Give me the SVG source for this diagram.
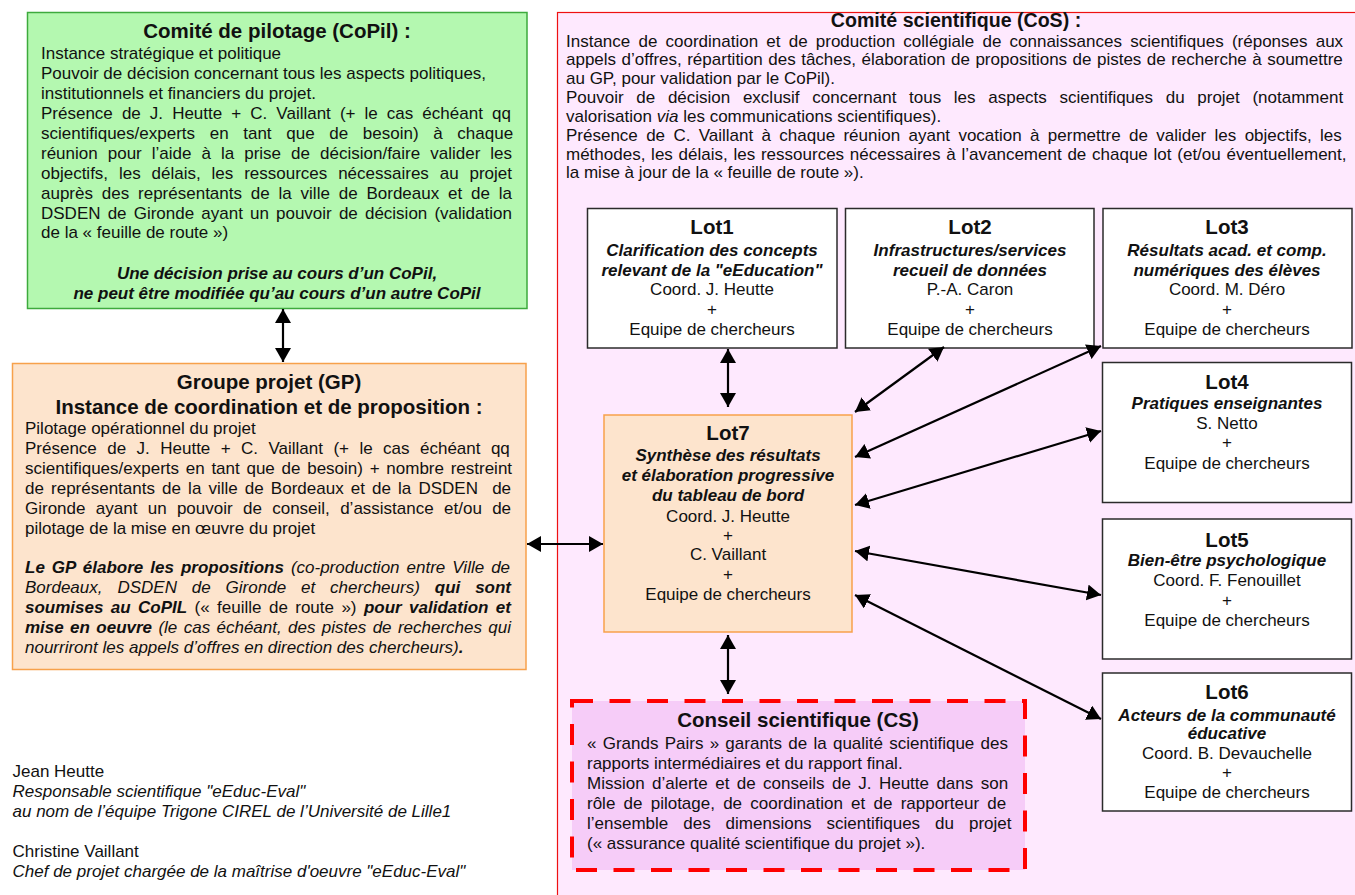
<svg xmlns="http://www.w3.org/2000/svg" width="1355" height="895" viewBox="0 0 1355 895">
<defs>
<style>
text{font-family:"Liberation Sans",Arial,Helvetica,sans-serif;font-size:17px;fill:#111}
.h{font-weight:bold;font-size:20.5px}
.bi{font-weight:bold;font-style:italic}
.i{font-style:italic}
.c{text-anchor:middle}
.lot{fill:#fff;stroke:#2b2b2b;stroke-width:1.5}
.con{stroke:#000;stroke-width:2.2;fill:none;marker-start:url(#ah);marker-end:url(#ah)}
</style>
<marker id="ah" viewBox="0 0 14 16" refX="14" refY="8" markerWidth="14" markerHeight="16" markerUnits="userSpaceOnUse" orient="auto-start-reverse"><path d="M0,0 L14,8 L0,16 z" fill="#000"/></marker>
</defs>
<rect x="0" y="0" width="1355" height="895" fill="#fff"/>

<g id="cos">
<rect x="557.5" y="12.5" width="820" height="900" fill="#fee9fe" stroke="#ee1111" stroke-width="1.2"/>
<text class="h c" x="956" y="27" style="font-size:19.6px">Comité scientifique (CoS) :</text>
<text x="566" y="46.5" style="word-spacing:3.46px">Instance de coordination et de production collégiale de connaissances scientifiques (réponses aux</text>
<text x="566" y="65.3" style="word-spacing:0.75px">appels d’offres, répartition des tâches, élaboration de propositions de pistes de recherche à soumettre</text>
<text x="566" y="84.1">au GP, pour validation par le CoPil).</text>
<text x="566" y="103" style="word-spacing:7.94px">Pouvoir de décision exclusif concernant tous les aspects scientifiques du projet (notamment</text>
<text x="566" y="121.8">valorisation <tspan class="i">via</tspan> les communications scientifiques).</text>
<text x="566" y="140.7" style="word-spacing:3.61px">Présence de C. Vaillant à chaque réunion ayant vocation à permettre de valider les objectifs, les</text>
<text x="566" y="159.5" style="word-spacing:1.02px">méthodes, les délais, les ressources nécessaires à l’avancement de chaque lot (et/ou éventuellement,</text>
<text x="566" y="178.4">la mise à jour de la «&#160;feuille de route&#160;»).</text>
</g>

<g id="copil">
<rect x="27.5" y="12.5" width="499.5" height="296" fill="#b4f8b0" stroke="#3daa3d" stroke-width="1.5"/>
<text class="h c" x="277" y="38">Comité de pilotage (CoPil) :</text>
<text x="41" y="59">Instance stratégique et politique</text>
<text x="41" y="79">Pouvoir de décision concernant tous les aspects politiques,</text>
<text x="41" y="99">institutionnels et financiers du projet.</text>
<text x="41" y="119" style="word-spacing:4.34px">Présence de J. Heutte + C. Vaillant (+ le cas échéant qq</text>
<text x="41" y="139" style="word-spacing:9.93px">scientifiques/experts en tant que de besoin) à chaque</text>
<text x="41" y="159" style="word-spacing:5.3px">réunion pour l’aide à la prise de décision/faire valider les</text>
<text x="41" y="179" style="word-spacing:6.14px">objectifs, les délais, les ressources nécessaires au projet</text>
<text x="41" y="199" style="word-spacing:4.1px">auprès des représentants de la ville de Bordeaux et de la</text>
<text x="41" y="219" style="word-spacing:2.4px">DSDEN de Gironde ayant un pouvoir de décision (validation</text>
<text x="41" y="238">de la «&#160;feuille de route&#160;»)</text>
<text class="bi c" x="277" y="279">Une décision prise au cours d’un CoPil,</text>
<text class="bi c" x="277" y="299">ne peut être modifiée qu’au cours d’un autre CoPil</text>
</g>

<g id="gp">
<rect x="12.5" y="363.5" width="513.5" height="306" fill="#fde4cd" stroke="#f7a14b" stroke-width="1.5"/>
<text class="h c" x="269" y="389">Groupe projet (GP)</text>
<text class="h c" x="269" y="414">Instance de coordination et de proposition :</text>
<text x="25" y="434">Pilotage opérationnel du projet</text>
<text x="25" y="454" style="word-spacing:5.7px">Présence de J. Heutte + C. Vaillant (+ le cas échéant qq</text>
<text x="25" y="474" style="word-spacing:2px">scientifiques/experts en tant que de besoin) + nombre restreint</text>
<text x="25" y="494" style="word-spacing:2.39px">de représentants de la ville de Bordeaux et de la DSDEN&#160; de</text>
<text x="25" y="514" style="word-spacing:5.59px">Gironde ayant un pouvoir de conseil, d’assistance et/ou de</text>
<text x="25" y="534">pilotage de la mise en œuvre du projet</text>
<text x="25" y="573" style="word-spacing:2.29px"><tspan class="bi">Le GP élabore les propositions</tspan><tspan class="i"> (co-production entre Ville de</tspan></text>
<text x="25" y="593" style="word-spacing:10.18px"><tspan class="i">Bordeaux, DSDEN de Gironde et chercheurs)</tspan><tspan class="bi"> qui sont</tspan></text>
<text x="25" y="613" style="word-spacing:2.68px"><tspan class="bi">soumises au CoPIL</tspan><tspan> («&#160;feuille de route&#160;»)</tspan><tspan class="bi"> pour validation et</tspan></text>
<text x="25" y="633" style="word-spacing:1.64px"><tspan class="bi">mise en oeuvre</tspan><tspan class="i"> (le cas échéant, des pistes de recherches qui</tspan></text>
<text x="25" y="653"><tspan class="i">nourriront les appels d’offres en direction des chercheurs)</tspan><tspan class="bi">.</tspan></text>
</g>

<g id="lot1">
<rect class="lot" x="587.5" y="208.5" width="249.5" height="139.5"/>
<text class="h c" x="712" y="234">Lot1</text>
<text class="bi c" x="712" y="256">Clarification des concepts</text>
<text class="bi c" x="712" y="275.5">relevant de la "eEducation"</text>
<text class="c" x="712" y="295">Coord. J. Heutte</text>
<text class="c" x="712" y="314.5">+</text>
<text class="c" x="712" y="334.5">Equipe de chercheurs</text>
</g>

<g id="lot2">
<rect class="lot" x="845.5" y="208.5" width="248.5" height="139.5"/>
<text class="h c" x="970" y="234">Lot2</text>
<text class="bi c" x="970" y="256">Infrastructures/services</text>
<text class="bi c" x="970" y="275.5">recueil de données</text>
<text class="c" x="970" y="295">P.-A. Caron</text>
<text class="c" x="970" y="314.5">+</text>
<text class="c" x="970" y="334.5">Equipe de chercheurs</text>
</g>

<g id="lot3">
<rect class="lot" x="1103" y="208.5" width="249" height="139.5"/>
<text class="h c" x="1227" y="234">Lot3</text>
<text class="bi c" x="1227" y="256">Résultats acad. et comp.</text>
<text class="bi c" x="1227" y="275.5">numériques des élèves</text>
<text class="c" x="1227" y="295">Coord. M. Déro</text>
<text class="c" x="1227" y="314.5">+</text>
<text class="c" x="1227" y="334.5">Equipe de chercheurs</text>
</g>

<g id="lot4">
<rect class="lot" x="1102.5" y="362.5" width="249" height="140"/>
<text class="h c" x="1227" y="389">Lot4</text>
<text class="bi c" x="1227" y="409">Pratiques enseignantes</text>
<text class="c" x="1227" y="429">S. Netto</text>
<text class="c" x="1227" y="448">+</text>
<text class="c" x="1227" y="469">Equipe de chercheurs</text>
</g>

<g id="lot5">
<rect class="lot" x="1102.5" y="519" width="249" height="140"/>
<text class="h c" x="1227" y="547">Lot5</text>
<text class="bi c" x="1227" y="566">Bien-être psychologique</text>
<text class="c" x="1227" y="586">Coord. F. Fenouillet</text>
<text class="c" x="1227" y="606">+</text>
<text class="c" x="1227" y="626">Equipe de chercheurs</text>
</g>

<g id="lot6">
<rect class="lot" x="1102.5" y="673" width="249" height="138"/>
<text class="h c" x="1227" y="699">Lot6</text>
<text class="bi c" x="1227" y="721">Acteurs de la communauté</text>
<text class="bi c" x="1227" y="739">éducative</text>
<text class="c" x="1227" y="759">Coord. B. Devauchelle</text>
<text class="c" x="1227" y="778">+</text>
<text class="c" x="1227" y="798">Equipe de chercheurs</text>
</g>

<g id="lot7">
<rect x="604" y="415" width="248" height="217" fill="#fde4cd" stroke="#f7a14b" stroke-width="1.5"/>
<text class="h c" x="728" y="440">Lot7</text>
<text class="bi c" x="728" y="461">Synthèse des résultats</text>
<text class="bi c" x="728" y="481">et élaboration progressive</text>
<text class="bi c" x="728" y="501">du tableau de bord</text>
<text class="c" x="728" y="522">Coord. J. Heutte</text>
<text class="c" x="728" y="541">+</text>
<text class="c" x="728" y="560">C. Vaillant</text>
<text class="c" x="728" y="580">+</text>
<text class="c" x="728" y="600">Equipe de chercheurs</text>
</g>

<g id="cs">
<rect x="572" y="701" width="453" height="169" fill="#f6ccf8" stroke="#ff0000" stroke-width="4" stroke-dasharray="21 16.5"/>
<text class="h c" x="798" y="727">Conseil scientifique (CS)</text>
<text x="587" y="749" style="word-spacing:1.52px">«&#160;Grands Pairs&#160;» garants de la qualité scientifique des</text>
<text x="587" y="769">rapports intermédiaires et du rapport final.</text>
<text x="587" y="789" style="word-spacing:2.69px">Mission d’alerte et de conseils de J. Heutte dans son</text>
<text x="587" y="809" style="word-spacing:3.49px">rôle de pilotage, de coordination et de rapporteur de</text>
<text x="587" y="829" style="word-spacing:10.24px">l’ensemble des dimensions scientifiques du projet</text>
<text x="587" y="849">(«&#160;assurance qualité scientifique du projet&#160;»).</text>
</g>

<g id="signatures">
<text x="12.5" y="777">Jean Heutte</text>
<text class="i" x="12.5" y="797">Responsable scientifique "eEduc-Eval"</text>
<text class="i" x="12.5" y="817">au nom de l’équipe Trigone CIREL de l’Université de Lille1</text>
<text x="12.5" y="857">Christine Vaillant</text>
<text class="i" x="12.5" y="877">Chef de projet chargée de la maîtrise d'oeuvre "eEduc-Eval"</text>
</g>

<g id="connectors">
<line class="con" x1="283" y1="309" x2="283" y2="362"/>
<line class="con" x1="728" y1="349" x2="728" y2="407"/>
<line class="con" x1="527" y1="544" x2="603" y2="544"/>
<line class="con" x1="728" y1="635" x2="728" y2="694"/>
<line class="con" x1="855" y1="412" x2="944" y2="347"/>
<line class="con" x1="855" y1="457" x2="1101" y2="346"/>
<line class="con" x1="855" y1="505" x2="1101" y2="431"/>
<line class="con" x1="855" y1="551" x2="1101" y2="595"/>
<line class="con" x1="855" y1="595" x2="1101" y2="719"/>
</g>
</svg>
